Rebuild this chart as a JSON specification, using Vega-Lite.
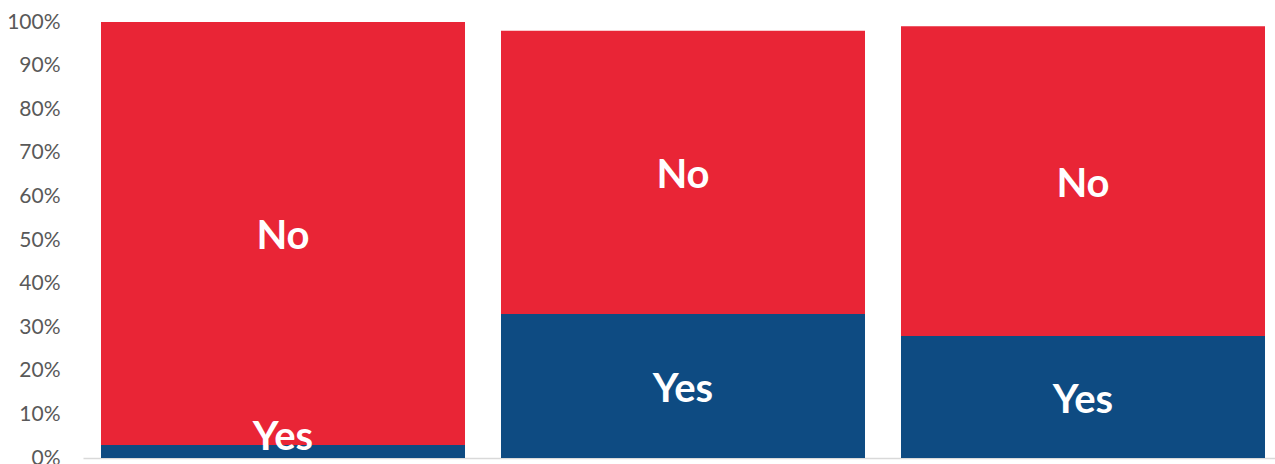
{
  "$schema": "https://vega.github.io/schema/vega-lite/v6.json",
  "autosize": "none",
  "width": 1192,
  "height": 436,
  "padding": {"left": 83, "top": 22, "right": 0, "bottom": 6},
  "background": "#ffffff",
  "config": {"view": {"stroke": null}, "font": "Lato"},
  "data": {
    "values": [
      {"group": "A", "answer": "Yes", "value": 3},
      {"group": "A", "answer": "No", "value": 97},
      {"group": "B", "answer": "Yes", "value": 33},
      {"group": "B", "answer": "No", "value": 65},
      {"group": "C", "answer": "Yes", "value": 28},
      {"group": "C", "answer": "No", "value": 71}
    ]
  },
  "transform": [
    {"stack": "value", "groupby": ["group"], "sort": [{"field": "answer", "order": "descending"}], "as": ["y0", "y1"]},
    {"calculate": "max((datum.y0 + datum.y1) / 2, 5.5)", "as": "ymid"}
  ],
  "encoding": {
    "x": {
      "field": "group",
      "type": "nominal",
      "scale": {"paddingInner": 0.09, "paddingOuter": 0.035, "align": 0.643},
      "axis": {"title": null, "labels": false, "ticks": false, "domainColor": "#d9d9d9", "domainWidth": 1.5}
    }
  },
  "layer": [
    {
      "mark": {"type": "bar"},
      "encoding": {
        "y": {
          "field": "y0",
          "type": "quantitative",
          "scale": {"domain": [0, 100], "nice": false},
          "axis": {
            "title": null,
            "values": [0, 10, 20, 30, 40, 50, 60, 70, 80, 90, 100],
            "labelExpr": "datum.value + '%'",
            "grid": false,
            "domain": false,
            "ticks": false,
            "labelPadding": 23,
            "labelFontSize": 21,
            "labelColor": "#595959",
            "labelFont": "Lato"
          }
        },
        "y2": {"field": "y1"},
        "color": {
          "field": "answer",
          "type": "nominal",
          "scale": {"domain": ["Yes", "No"], "range": ["#0E4B82", "#E92536"]},
          "legend": null
        }
      }
    },
    {
      "mark": {"type": "text", "color": "#ffffff", "fontSize": 40, "fontWeight": "bold", "font": "Lato", "baseline": "middle", "dy": 4},
      "encoding": {
        "y": {"field": "ymid", "type": "quantitative"},
        "text": {"field": "answer"}
      }
    }
  ]
}
